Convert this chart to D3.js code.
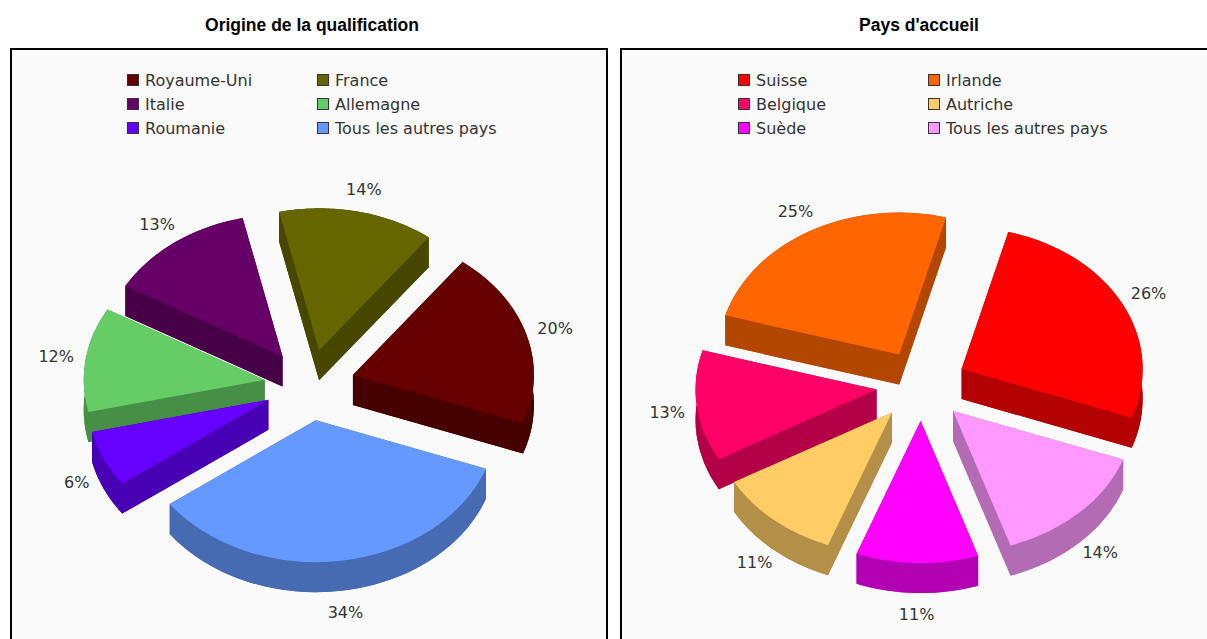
<!DOCTYPE html>
<html>
<head>
<meta charset="utf-8">
<title>Origine de la qualification / Pays d'accueil</title>
<script src="https://cdn.jsdelivr.net/npm/d3@7"></script>
<style>
  body { margin: 0; background: #fff; }
  svg { display: block; }
  .title { font: bold 17.5px "Liberation Sans", Arial, sans-serif; fill: #000; text-anchor: middle; }
  .legend, .pct { font: 16px "DejaVu Sans", sans-serif; fill: #333; }
  .pct { text-anchor: middle; }
</style>
</head>
<body>
<svg id="canvas"></svg>
<script>
let width = 1207;
let height = 639;

// left chart
let originTitle = "Origine de la qualification";
let originNames = ["Royaume-Uni", "France", "Italie", "Allemagne", "Roumanie", "Tous les autres pays"];
let originValues = [20.2, 13.9, 13.2, 11.9, 6.4, 34.4];
let originColors = ["#660000", "#666600", "#660066", "#66CC66", "#6600FF", "#6699FF"];

// right chart
let hostTitle = "Pays d'accueil";
let hostNames = ["Suisse", "Irlande", "Belgique", "Autriche", "Suède", "Tous les autres pays"];
let hostValues = [26.4, 24.7, 12.6, 11.1, 10.9, 14.3];
let hostColors = ["#FF0000", "#FF6600", "#FF0066", "#FFCC66", "#FF00FF", "#FF99FF"];

let rx = 181;
let ry = 142;
let depth = 30;
let explode = 0.25;
let labelRx = 256;
let labelRyTop = 200;
let labelRyBottom = 195;
let startDeg = 110;

let canvas = d3.select("#canvas")
  .attr("width", width)
  .attr("height", height);

let rad = (deg) => deg * Math.PI / 180;

let drawChart = (opt) => {
  let g = canvas.append("g");

  g.append("text")
    .attr("class", "title")
    .attr("x", opt.titleX)
    .attr("y", 31)
    .text(opt.title);

  // bottom edge is cut off by the picture, so the rect runs past it
  g.append("rect")
    .attr("x", opt.panelX)
    .attr("y", 49)
    .attr("width", opt.panelW)
    .attr("height", height)
    .attr("fill", "#fafafa")
    .attr("stroke", "#000")
    .attr("stroke-width", 2);

  // legend, filled column by column of two
  let legend = g.selectAll(".item")
    .data(opt.names)
    .enter()
    .append("g")
    .attr("transform", (d, i) => "translate(" + (opt.legendX + (i % 2) * 190) + "," + (80 + Math.floor(i / 2) * 24) + ")");

  legend.append("rect")
    .attr("x", 0.5)
    .attr("y", -5.5)
    .attr("width", 11)
    .attr("height", 11)
    .attr("fill", (d, i) => opt.colors[i])
    .attr("stroke", "#333");

  legend.append("text")
    .attr("class", "legend")
    .attr("x", 18)
    .attr("y", 6)
    .text((d) => d);

  let pie = d3.pie()
    .sort(null)
    .startAngle(rad(startDeg))
    .endAngle(rad(startDeg - 360));

  let arcs = pie(opt.values).map((a, i) => {
    let mid = (a.startAngle + a.endAngle) / 2;
    return {
      a: a,
      i: i,
      mid: mid,
      dirX: Math.sin(mid),
      dirY: -Math.cos(mid),
      x: opt.cx + explode * rx * Math.sin(mid),
      y: opt.cy - explode * ry * Math.cos(mid)
    };
  });

  let face = d3.arc().innerRadius(0).outerRadius(rx);
  let line = d3.line();

  let point = (s, angle, drop) => [
    s.x + rx * Math.sin(angle),
    s.y - ry * Math.cos(angle) + drop
  ];

  // back slices first, the front ones cover them
  arcs.slice().sort((p, q) => p.dirY - q.dirY).forEach((s) => {
    let top = opt.colors[s.i];
    let side = d3.rgb(top);
    side = d3.rgb(side.r * 0.7, side.g * 0.7, side.b * 0.7).formatHex();

    let slice = g.append("g");

    // floor of the slice
    slice.append("path")
      .attr("d", face(s.a))
      .attr("transform", "translate(" + s.x + "," + (s.y + depth) + ") scale(1," + (ry / rx) + ")")
      .attr("fill", side);

    // two straight walls
    [s.a.startAngle, s.a.endAngle].forEach((angle) => {
      slice.append("path")
        .attr("d", line([[s.x, s.y], point(s, angle, 0), point(s, angle, depth), [s.x, s.y + depth]]) + "Z")
        .attr("fill", side);
    });

    // curved wall
    let steps = d3.range(0, 61).map((k) => s.a.startAngle + (s.a.endAngle - s.a.startAngle) * k / 60);
    let rim = steps.map((angle) => point(s, angle, 0))
      .concat(steps.slice().reverse().map((angle) => point(s, angle, depth)));
    slice.append("path")
      .attr("d", line(rim) + "Z")
      .attr("fill", side);

    slice.append("path")
      .attr("d", face(s.a))
      .attr("transform", "translate(" + s.x + "," + s.y + ") scale(1," + (ry / rx) + ")")
      .attr("fill", top);
  });

  g.selectAll(".pct")
    .data(arcs)
    .enter()
    .append("text")
    .attr("class", "pct")
    .attr("x", (s) => opt.cx + labelRx * s.dirX)
    .attr("y", (s) => opt.cy + (s.dirY > 0
      ? labelRyBottom * s.dirY + Math.min(depth + 4, (depth + 8) * s.dirY)
      : labelRyTop * s.dirY))
    .attr("dy", "0.36em")
    .text((s) => d3.format(".0f")(opt.values[s.i]) + "%");
};

drawChart({
  title: originTitle, names: originNames, values: originValues, colors: originColors,
  titleX: 312, panelX: 11, panelW: 596, legendX: 127, cx: 309.5, cy: 385
});

drawChart({
  title: hostTitle, names: hostNames, values: hostValues, colors: hostColors,
  titleX: 919, panelX: 621, panelW: 700, legendX: 738, cx: 921.5, cy: 385.5
});
</script>
</body>
</html>
